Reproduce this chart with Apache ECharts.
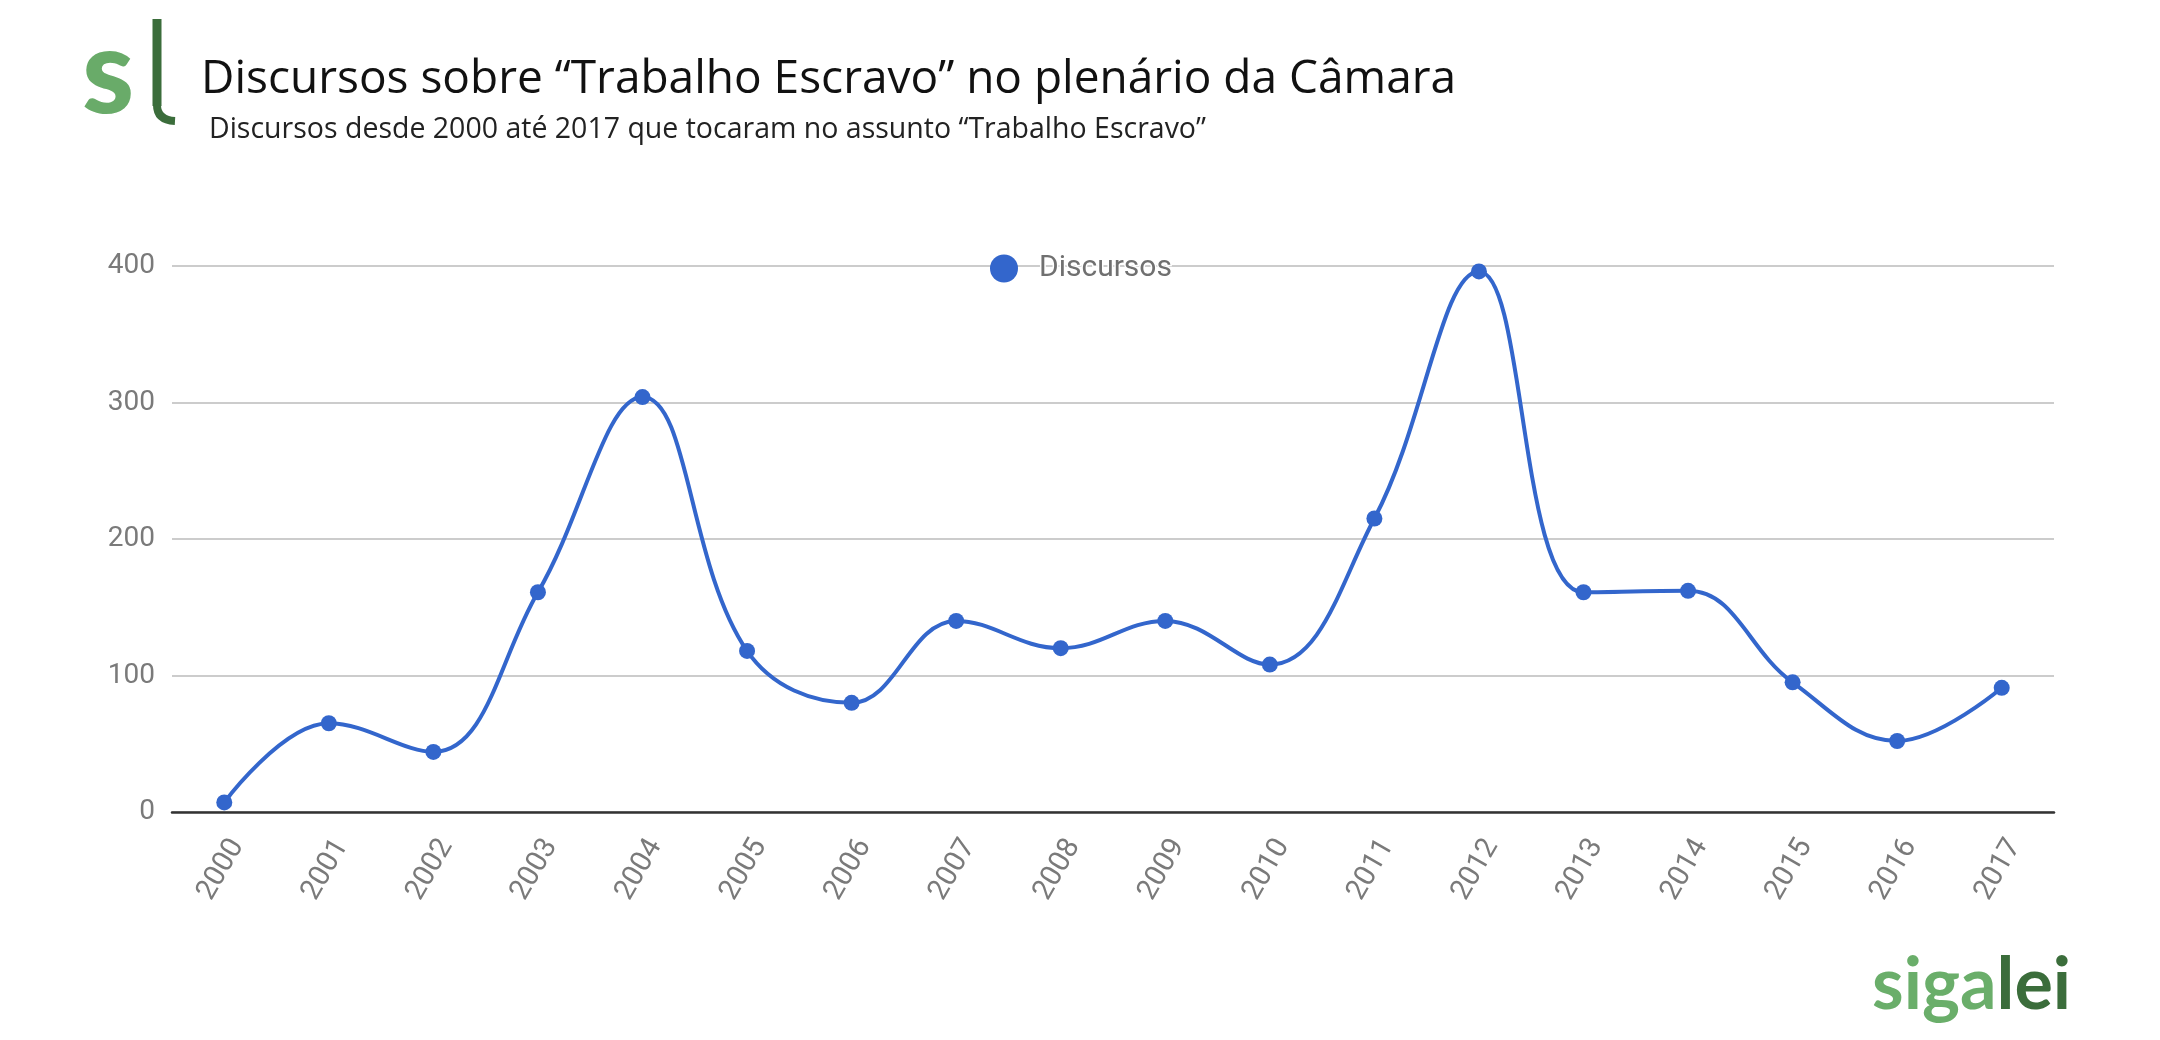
<!DOCTYPE html>
<html>
<head>
<meta charset="utf-8">
<style>
  html, body { margin: 0; padding: 0; background: #ffffff; }
  #chart { width: 2160px; height: 1040px; }
</style>
<script src="https://cdn.jsdelivr.net/npm/echarts@6/dist/echarts.min.js"></script>
</head>
<body>
<div id="chart"></div>
<script>
const titleText = 'Discursos sobre “Trabalho Escravo” no plenário da Câmara';
const subtitleText = 'Discursos desde 2000 até 2017 que tocaram no assunto “Trabalho Escravo”';
const seriesName = 'Discursos';
const years = ['2000','2001','2002','2003','2004','2005','2006','2007','2008','2009','2010','2011','2012','2013','2014','2015','2016','2017'];
const discursos = [7, 65, 44, 161, 304, 118, 80, 140, 120, 140, 108, 215, 396, 161, 162, 95, 52, 91];
const yTicks = { min: 0, max: 400, interval: 100 };

const chart = echarts.init(document.getElementById('chart'), null, { renderer: 'canvas' });

const option = {
  backgroundColor: '#ffffff',
  animation: false,
  title: [
    {
      text: titleText,
      left: 196, top: 52,
      textStyle: { fontFamily: 'Open Sans', fontSize: 46, fontWeight: 'normal', color: '#111111' }
    },
    {
      text: subtitleText,
      left: 204, top: 110,
      textStyle: { fontFamily: 'Open Sans', fontSize: 28.5, fontWeight: 'normal', color: '#222222' }
    }
  ],
  legend: {
    data: [{ name: seriesName, icon: 'circle' }],
    left: 985, top: 247,
    itemWidth: 28, itemHeight: 28, itemGap: 0,
    textStyle: {
      fontFamily: 'Roboto', fontSize: 30, color: '#707070',
      padding: [0, 0, 0, 16],
      textBorderColor: '#ffffff', textBorderWidth: 3
    }
  },
  grid: { left: 172, right: 106, top: 266, bottom: 228, containLabel: false },
  xAxis: {
    type: 'category',
    data: years,
    boundaryGap: true,
    axisLine: { show: true, lineStyle: { color: '#333333', width: 2.5 } },
    axisTick: { show: false },
    axisLabel: {
      rotate: 60, margin: 22, interval: 0,
      verticalAlign: 'top', lineHeight: 30,
      fontFamily: 'Roboto', fontSize: 29, color: '#7a7a7a'
    },
    splitLine: { show: false }
  },
  yAxis: {
    type: 'value',
    min: yTicks.min, max: yTicks.max, interval: yTicks.interval,
    axisLine: { show: false },
    axisTick: { show: false },
    axisLabel: { margin: 17, fontFamily: 'Roboto', fontSize: 28, color: '#7a7a7a' },
    splitLine: { show: true, lineStyle: { color: '#cccccc', width: 2 } }
  },
  series: [{
    name: seriesName,
    type: 'line',
    data: discursos,
    smooth: 0.4,
    symbol: 'circle',
    symbolSize: 16,
    itemStyle: { color: '#3366cc' },
    lineStyle: { color: '#3366cc', width: 4 },
    z: 3
  }],
  graphic: [
    {
      type: 'text',
      style: {
        text: 's', x: 82, y: 134,
        font: '900 118px Lato',
        fill: '#69ab69',
        textVerticalAlign: 'bottom'
      }
    },
    {
      type: 'line',
      shape: { x1: 157, y1: 19, x2: 157, y2: 106 },
      style: { stroke: '#3b6d3b', lineWidth: 9, lineCap: 'butt' }
    },
    {
      type: 'bezierCurve',
      shape: { x1: 157, y1: 105, cpx1: 157, cpy1: 120, x2: 175, y2: 121 },
      style: { stroke: '#3b6d3b', lineWidth: 8, fill: null, lineCap: 'butt' }
    },
    {
      type: 'text',
      style: {
        rich: {
          a: { fontFamily: 'Lato', fontWeight: 'bold', fontSize: 72, fill: '#6aae6a', color: '#6aae6a' },
          b: { fontFamily: 'Lato', fontWeight: 'bold', fontSize: 72, fill: '#3b6d3b', color: '#3b6d3b' }
        },
        text: '{a|siga}{b|lei}',
        x: 1872, y: 1022,
        textVerticalAlign: 'bottom'
      }
    }
  ]
};

chart.setOption(option);
</script>
</body>
</html>
